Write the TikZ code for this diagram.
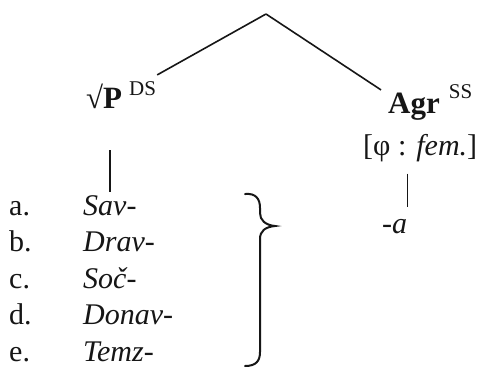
\documentclass[tikz,border=0pt]{standalone}
\usepackage{fontspec}
\setmainfont{Liberation Serif}
\usepackage{tikz}
\usetikzlibrary{positioning}
\definecolor{ink}{HTML}{161616}
\newcommand{\glossfnt}{\fontsize{30}{36}\selectfont}
\newcommand{\catfnt}{\fontsize{31}{36}\selectfont}
\newcommand{\supfnt}{\fontsize{21}{21}\selectfont}
\tikzset{word/.style={anchor=base west,inner sep=0pt,font=\glossfnt,text=ink},
  branch/.style={draw=ink,line width=1.6pt},
  bracket/.style={draw=ink,line width=2pt,line cap=round}}

\begin{document}
\begin{tikzpicture}[x=1pt,y=-1pt]
\useasboundingbox[fill=white] (0,0) rectangle (481,368);
\coordinate (root) at (266,14);
\node[word,font=\catfnt] (rootP) at (86,108)
{√\textbf{P}\hspace{7pt}\raisebox{13pt}{\supfnt DS}};
\node[word,font=\catfnt] (agr) at (388,113)
{\textbf{Agr}\hspace{9pt}\raisebox{15pt}{\supfnt SS}};
\node[word] (feat) at (363,155) {[φ : \textit{fem.}]};
\node[word] (suffix) at (382,233) {\textit{-a}};
% list of stems
\node[word] (la) at (9,215) {a.};
\node[word] (lb) at (9,251.5) {b.};
\node[word] (lc) at (9,288) {c.};
\node[word] (ld) at (9,324.5) {d.};
\node[word] (le) at (9,361) {e.};
\node[word] (sav) at (83,215) {\textit{Sav-}};
\node[word] (drav) at (83,251.5) {\textit{Drav-}};
\node[word] (soc) at (83,288) {\textit{Soč-}};
\node[word] (donav) at (83,324.5) {\textit{Donav-}};
\node[word] (temz) at (83,361) {\textit{Temz-}};
\draw[branch] (root) -- ([shift={(1pt,6pt)}]rootP.north east);
\draw[branch] (root) -- ([shift={(-7pt,-6pt)}]agr.north west);
\draw[branch,shorten <=42pt,shorten >=3pt] (rootP.south -| sav.north) -- (sav.north);
\draw[branch,shorten <=12pt,shorten >=12pt] (feat.south -| suffix.north east) -- (suffix.north east);
% brace over the stems
\draw[bracket] (245,194) .. controls (256,193) and (260,199) .. (260,208) -- (260,213)
  .. controls (260,220) and (265,225) .. (275,226)
  .. controls (265,227) and (260,231) .. (260,239) -- (260,352)
  .. controls (260,361) and (256,366) .. (245,366);
\end{tikzpicture}
\end{document}
